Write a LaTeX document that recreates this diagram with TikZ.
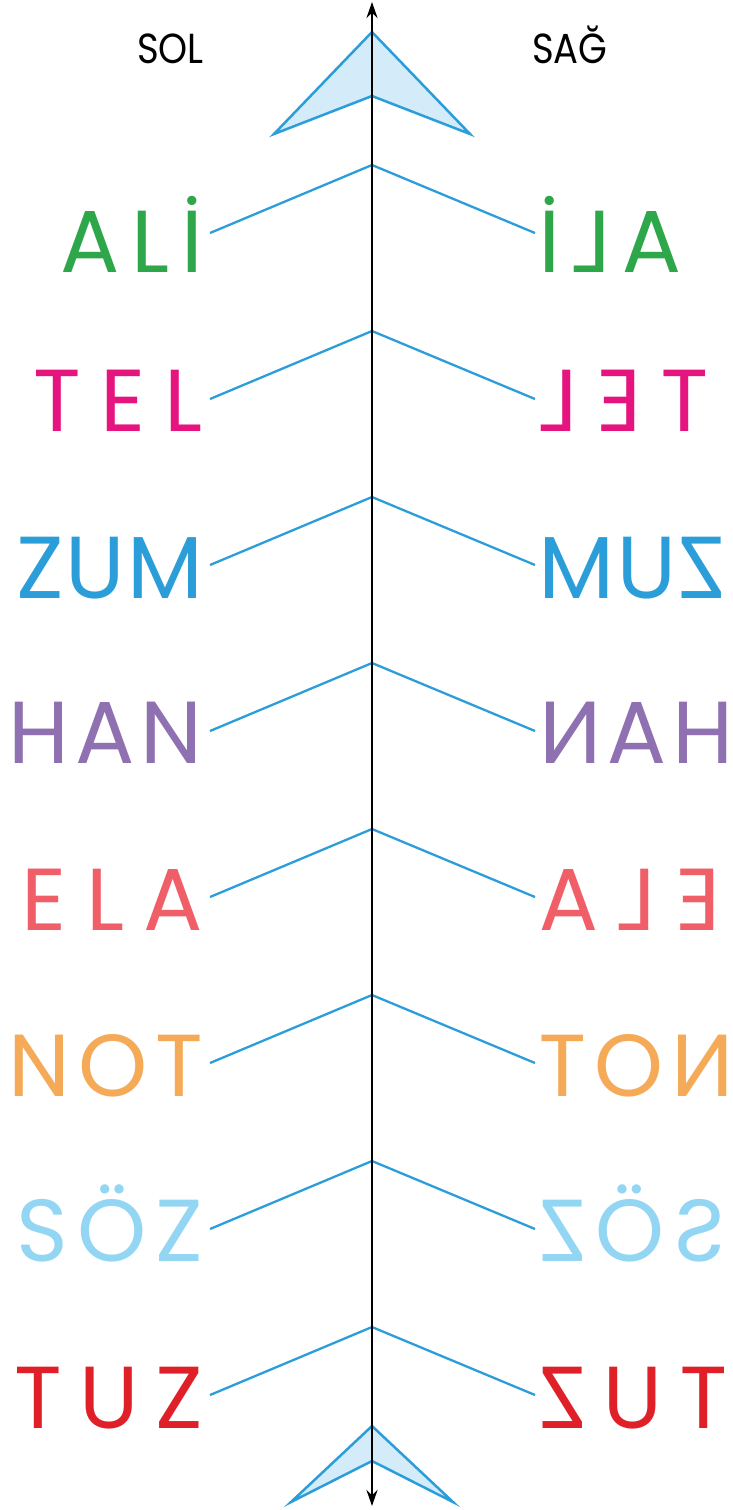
\documentclass[tikz,border=0pt]{standalone}
\usepackage{fontspec}
\setmainfont{Poppins}
\usetikzlibrary{arrows.meta, calc}

\definecolor{yesil}{RGB}{46,166,74}
\definecolor{pembe}{RGB}{230,20,127}
\definecolor{mavi}{RGB}{43,158,217}
\definecolor{mor}{RGB}{143,112,177}
\definecolor{somon}{RGB}{240,94,104}
\definecolor{turuncu}{RGB}{245,170,88}
\definecolor{acikmavi}{RGB}{146,214,243}
\definecolor{kirmizi}{RGB}{224,32,40}
\definecolor{okdolgu}{RGB}{212,236,250}

\begin{document}
\begin{tikzpicture}[x=1pt, y=-1pt,
        kelime/.style={font=\fontsize{88}{88}\selectfont\addfontfeature{LetterSpace=#1}, anchor=base east, inner sep=0pt},
        ayna/.style={kelime=#1, xscale=-1},
        baslik/.style={font=\fontsize{42}{42}\selectfont, xscale=0.88, anchor=base west, inner sep=0pt},
        kol/.style={mavi, line width=2.3pt},
        okucu/.style={draw=mavi, fill=okdolgu, line width=2.5pt, line join=miter}]
        \useasboundingbox (0,0) rectangle (733,1510);

        % Ok uclari (arrowheads)
        \filldraw[okucu] (372,32) -- (274,134) -- (372,96) -- (470,134) -- cycle;
        \filldraw[okucu] (372,1426) -- (291,1502) -- (372,1461) -- (453,1502) -- cycle;

        % Sol / Sag
        \node[baslik] (sol) at (137,63) {SOL};
        \node[baslik] (sag) at (532,63) {SAĞ};

        % ALİ
        \coordinate (t1) at (372,165);
        \node[kelime=13, text=yesil] (sol1) at (203,272) {ALİ};
        \node[ayna=13, text=yesil] (sag1) at (539,272) {ALİ};
        \draw[kol] (t1) +(-162,68) -- (t1) -- +(163,68);

        % TEL
        \coordinate (t2) at (372,331);
        \node[kelime=22, text=pembe] (sol2) at (203,431) {TEL};
        \node[ayna=22, text=pembe] (sag2) at (539,431) {TEL};
        \draw[kol] (t2) +(-162,68) -- (t2) -- +(163,68);

        % ZUM
        \coordinate (t3) at (372,497);
        \node[kelime=2, text=mavi] (sol3) at (203,598) {ZUM};
        \node[ayna=2, text=mavi] (sag3) at (539,598) {ZUM};
        \draw[kol] (t3) +(-162,68) -- (t3) -- +(163,68);

        % HAN
        \coordinate (t4) at (372,663);
        \node[kelime=7, text=mor] (sol4) at (203,763) {HAN};
        \node[ayna=7, text=mor] (sag4) at (539,763) {HAN};
        \draw[kol] (t4) +(-162,68) -- (t4) -- +(163,68);

        % ELA
        \coordinate (t5) at (372,829);
        \node[kelime=22, text=somon] (sol5) at (203,930) {ELA};
        \node[ayna=22, text=somon] (sag5) at (539,930) {ELA};
        \draw[kol] (t5) +(-162,68) -- (t5) -- +(163,68);

        % NOT
        \coordinate (t6) at (372,995);
        \node[kelime=9, text=turuncu] (sol6) at (203,1096) {NOT};
        \node[ayna=9, text=turuncu] (sag6) at (539,1096) {NOT};
        \draw[kol] (t6) +(-162,68) -- (t6) -- +(163,68);

        % SÖZ
        \coordinate (t7) at (372,1161);
        \node[kelime=10, text=acikmavi] (sol7) at (203,1261) {SÖZ};
        \node[ayna=10, text=acikmavi] (sag7) at (539,1261) {SÖZ};
        \draw[kol] (t7) +(-162,68) -- (t7) -- +(163,68);

        % TUZ
        \coordinate (t8) at (372,1327);
        \node[kelime=19, text=kirmizi] (sol8) at (203,1428) {TUZ};
        \node[ayna=19, text=kirmizi] (sag8) at (539,1428) {TUZ};
        \draw[kol] (t8) +(-162,68) -- (t8) -- +(163,68);

        % Eksen (axis)
        \coordinate (ust) at (372,2);
        \coordinate (alt) at (372,1506);
        \draw[line width=2.4pt, {Stealth[length=16pt, width=11pt]}-{Stealth[length=16pt, width=11pt]}] (alt) -- (ust);
    \end{tikzpicture}
\end{document}
